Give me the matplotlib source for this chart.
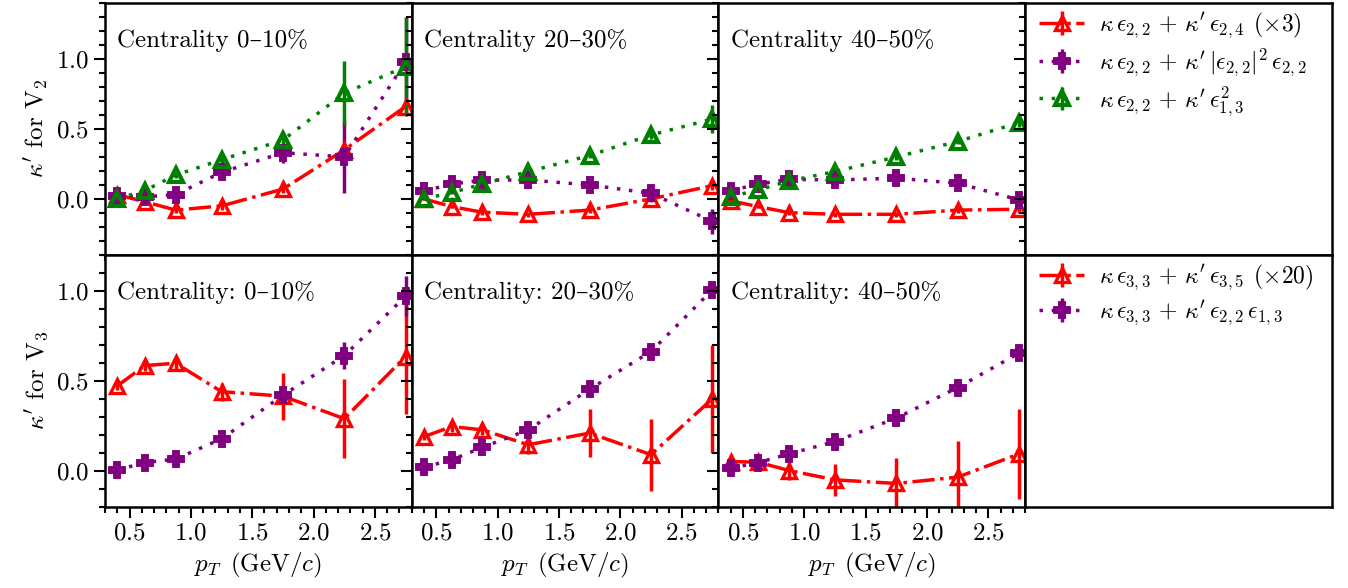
import numpy as np
import matplotlib
matplotlib.use("Agg")
import matplotlib.pyplot as plt
from matplotlib.ticker import MultipleLocator

plt.rcParams['font.family'] = ['cmr10', 'DejaVu Serif']
plt.rcParams['mathtext.fontset'] = 'cm'
plt.rcParams['axes.formatter.use_mathtext'] = True
plt.rcParams['axes.unicode_minus'] = False

# transverse momentum bins (GeV/c)
pt = [0.4, 0.625, 0.875, 1.25, 1.75, 2.25, 2.75]
centralities = ['0–10%', '20–30%', '40–50%']

# kappa' for V2, three fits per centrality class
v2_e24 = [[0.03, -0.02, -0.08, -0.05, 0.07, 0.35, 0.66],
          [0.0, -0.055, -0.095, -0.11, -0.08, 0.0, 0.095],
          [-0.014, -0.055, -0.098, -0.11, -0.11, -0.08, -0.074]]
v2_e24_err = [[0.02, 0.02, 0.02, 0.03, 0.03, 0.04, 0.06],
              [0.01, 0.01, 0.02, 0.02, 0.02, 0.02, 0.03],
              [0.01, 0.01, 0.02, 0.02, 0.02, 0.02, 0.03]]
v2_cube = [[0.02, 0.015, 0.03, 0.19, 0.33, 0.30, 0.98],
           [0.057, 0.105, 0.135, 0.135, 0.10, 0.04, -0.16],
           [0.06, 0.105, 0.14, 0.135, 0.148, 0.112, -0.007]]
v2_cube_err = [[0.02, 0.02, 0.03, 0.04, 0.07, 0.26, 0.32],
               [0.01, 0.01, 0.02, 0.02, 0.02, 0.03, 0.09],
               [0.01, 0.01, 0.02, 0.02, 0.02, 0.02, 0.03]]
v2_e13 = [[0.0, 0.06, 0.17, 0.28, 0.42, 0.755, 0.945],
          [0.0, 0.045, 0.105, 0.195, 0.31, 0.457, 0.57],
          [0.016, 0.064, 0.128, 0.195, 0.30, 0.41, 0.545]]
v2_e13_err = [[0.01, 0.02, 0.02, 0.03, 0.04, 0.23, 0.35],
              [0.01, 0.01, 0.02, 0.02, 0.02, 0.03, 0.10],
              [0.01, 0.01, 0.02, 0.02, 0.02, 0.02, 0.03]]

# kappa' for V3, two fits per centrality class
v3_e35 = [[0.472, 0.585, 0.598, 0.44, 0.415, 0.29, 0.635],
          [0.19, 0.246, 0.228, 0.145, 0.21, 0.09, 0.40],
          [0.052, 0.048, 0.002, -0.05, -0.07, -0.035, 0.094]]
v3_e35_err = [[0.02, 0.03, 0.03, 0.05, 0.13, 0.22, 0.32],
              [0.02, 0.03, 0.03, 0.05, 0.135, 0.20, 0.30],
              [0.02, 0.03, 0.05, 0.09, 0.14, 0.20, 0.25]]
v3_e22e13 = [[0.005, 0.046, 0.065, 0.178, 0.42, 0.64, 0.97],
             [0.02, 0.061, 0.13, 0.228, 0.454, 0.663, 1.005],
             [0.015, 0.046, 0.094, 0.163, 0.293, 0.463, 0.654]]
v3_e22e13_err = [[0.01, 0.01, 0.015, 0.02, 0.03, 0.075, 0.11],
                 [0.01, 0.01, 0.015, 0.02, 0.02, 0.02, 0.04],
                 [0.01, 0.01, 0.01, 0.015, 0.02, 0.02, 0.02]]

v2_labels = [r"$\kappa\,\epsilon_{2,2}\,+\,\kappa'\,\epsilon_{2,4}\;\,(\times 3)$",
             r"$\kappa\,\epsilon_{2,2}\,+\,\kappa'\,|\epsilon_{2,2}|^2\,\epsilon_{2,2}$",
             r"$\kappa\,\epsilon_{2,2}\,+\,\kappa'\,\epsilon_{1,3}^2$"]
v3_labels = [r"$\kappa\,\epsilon_{3,3}\,+\,\kappa'\,\epsilon_{3,5}\;\,(\times 20)$",
             r"$\kappa\,\epsilon_{3,3}\,+\,\kappa'\,\epsilon_{2,2}\,\epsilon_{1,3}$"]

red = dict(color='red', marker='^', ls='-.', lw=2.5, ms=10, mew=2.4, mfc='none', elinewidth=2.5)
purple = dict(color='purple', marker='P', ls=(0, (1, 2.5)), lw=2.5, ms=10, mew=2.8, mfc='none', elinewidth=2.5)
green = dict(color='green', marker='^', ls=(0, (1, 2.5)), lw=2.5, ms=9.5, mew=3, mfc='none', elinewidth=2.5)

fig, axes = plt.subplots(2, 4, figsize=(13.48, 5.88), dpi=100,
                         gridspec_kw=dict(wspace=0, hspace=0))
fig.subplots_adjust(left=0.0779, right=0.988, top=0.995, bottom=0.138)

for i in range(3):
    ax = axes[0, i]
    ax.errorbar(pt, v2_e24[i], yerr=v2_e24_err[i], label=v2_labels[0], **red)
    ax.errorbar(pt, v2_cube[i], yerr=v2_cube_err[i], label=v2_labels[1], **purple)
    ax.errorbar(pt, v2_e13[i], yerr=v2_e13_err[i], label=v2_labels[2], **green)
    ax.set_ylim(-0.4, 1.4)
    ax.text(0.04, 0.85, 'Centrality ' + centralities[i], transform=ax.transAxes,
            fontsize=18, va='center')

    ax = axes[1, i]
    ax.errorbar(pt, v3_e35[i], yerr=v3_e35_err[i], label=v3_labels[0], **red)
    ax.errorbar(pt, v3_e22e13[i], yerr=v3_e22e13_err[i], label=v3_labels[1], **purple)
    ax.set_ylim(-0.2, 1.2)
    ax.text(0.04, 0.85, 'Centrality: ' + centralities[i], transform=ax.transAxes,
            fontsize=18, va='center')
    ax.set_xlabel(r'$p_T\ \,(\mathrm{GeV}/c)$', fontsize=18)

for row in range(2):
    for i in range(3):
        ax = axes[row, i]
        ax.set_xlim(0.3, 2.8)
        ax.xaxis.set_major_locator(MultipleLocator(0.5))
        ax.xaxis.set_minor_locator(MultipleLocator(0.1))
        ax.yaxis.set_major_locator(MultipleLocator(0.5))
        ax.yaxis.set_minor_locator(MultipleLocator(0.1))
        ax.tick_params(which='both', direction='out', labelsize=18, width=1.5)
        ax.tick_params(which='major', length=8)
        ax.tick_params(which='minor', length=4)
        if i > 0:
            ax.tick_params(labelleft=False)
        if row == 0:
            ax.tick_params(labelbottom=False)
        for sp in ax.spines.values():
            sp.set_linewidth(1.8)

    # fourth column only carries the legend
    lax = axes[row, 3]
    lax.set_xticks([])
    lax.set_yticks([])
    for sp in lax.spines.values():
        sp.set_linewidth(1.8)
    h, l = axes[row, 0].get_legend_handles_labels()
    lax.legend(h, l, loc='upper left', bbox_to_anchor=(0.0, 1.025), frameon=False,
               fontsize=17, handlelength=1.9, handletextpad=0.65, labelspacing=0.25,
               borderaxespad=0.2)

# the upper legend panel keeps its left y ticks (pointing into the 40-50% panel)
lax = axes[0, 3]
lax.set_ylim(-0.4, 1.4)
lax.yaxis.set_major_locator(MultipleLocator(0.5))
lax.yaxis.set_minor_locator(MultipleLocator(0.1))
lax.tick_params(axis='y', which='both', direction='out', width=1.5, labelleft=False)
lax.tick_params(axis='y', which='major', length=8)
lax.tick_params(axis='y', which='minor', length=4)

axes[0, 0].set_ylabel(r"$\kappa'$ for $\mathrm{V}_2$", fontsize=18)
axes[1, 0].set_ylabel(r"$\kappa'$ for $\mathrm{V}_3$", fontsize=18)

fig.savefig('out.png', dpi=100)
